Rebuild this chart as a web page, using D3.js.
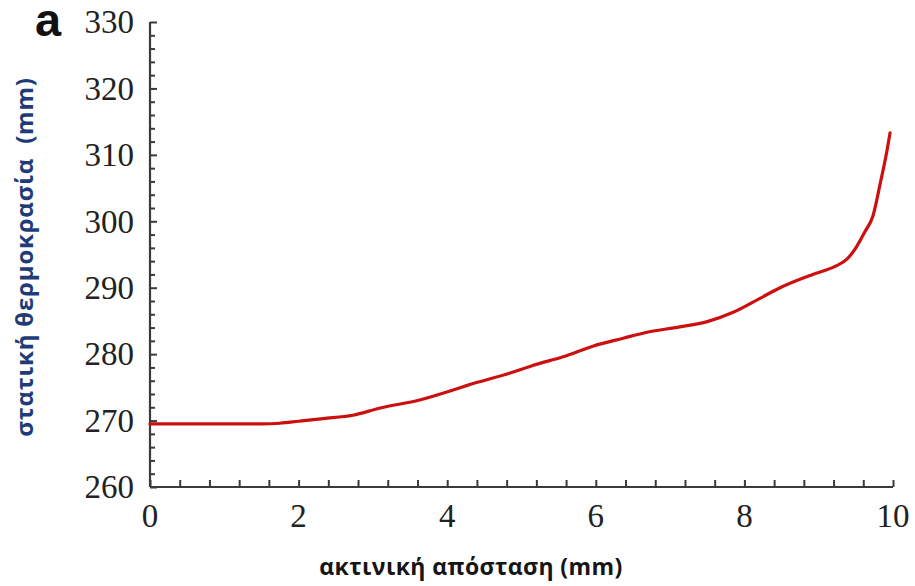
<!DOCTYPE html>
<html>
<head>
<meta charset="utf-8">
<script src="https://cdn.jsdelivr.net/npm/d3@7/dist/d3.min.js"></script>
<style>
  html, body { margin: 0; padding: 0; background: #fff; }
  svg { display: block; }
</style>
</head>
<body>
<svg id="chart" width="915" height="586"></svg>
<script>
// Radial distance (mm) and static temperature along the radius
const radius = [0, 0.5, 1.0, 1.5, 1.75, 2.0, 2.33, 2.73, 3.1, 3.63, 4.08, 4.27, 4.89, 5.15, 5.56, 5.96,
                6.37, 6.69, 7.13, 7.5, 7.85, 8.21, 8.48, 8.92, 9.22, 9.38, 9.5, 9.62, 9.73, 9.83, 9.92, 9.96];
const temperature = [269.5, 269.5, 269.5, 269.5, 269.6, 269.9, 270.3, 270.8, 271.9, 273.1, 274.6, 275.3, 277.3, 278.3, 279.6, 281.2,
                     282.4, 283.3, 284.1, 284.9, 286.3, 288.4, 290.0, 292.0, 293.2, 294.3, 296.0, 298.4, 300.8, 305.8, 310.7, 313.3];

const xTicks = [0, 2, 4, 6, 8, 10];
const yTicks = [260, 270, 280, 290, 300, 310, 320, 330];
const xMinor = d3.range(0, 10.0001, 0.4);
const yMinor = d3.range(260, 330.0001, 2);

const panelLabel = "a";
const xTitle = "ακτινική απόσταση (mm)";
const yTitle = "στατική θερμοκρασία  (mm)";

const svg = d3.select("#chart");

const x = d3.scaleLinear().domain([0, 10]).range([150, 893]);
const y = d3.scaleLinear().domain([260, 330]).range([487, 22]);

const axisColor = "#3a3a3a";
const tickFont = "'Liberation Serif', 'Times New Roman', serif";

// Bottom axis: inward ticks, minor every 0.4
const gx = svg.append("g").attr("transform", `translate(0,${y(260)})`);
gx.call(d3.axisTop(x).tickValues(xMinor).tickSize(7).tickFormat(""));
gx.select(".domain").remove();
gx.selectAll("line").attr("stroke", axisColor).attr("stroke-width", 2);

// Left axis: inward ticks, minor every 2
const gy = svg.append("g").attr("transform", `translate(${x(0)},0)`);
gy.call(d3.axisRight(y).tickValues(yMinor).tickSize(5).tickFormat(""));
gy.select(".domain").remove();
gy.selectAll("line").attr("stroke", axisColor).attr("stroke-width", 2);
gy.selectAll(".tick").filter(d => yTicks.includes(Math.round(d)))
  .select("line").attr("x2", 7);

// Axis lines
svg.append("line")
  .attr("x1", x(0)).attr("x2", x(10)).attr("y1", y(260)).attr("y2", y(260))
  .attr("stroke", axisColor).attr("stroke-width", 2.2);
svg.append("line")
  .attr("x1", x(0)).attr("x2", x(0)).attr("y1", y(330)).attr("y2", y(260))
  .attr("stroke", axisColor).attr("stroke-width", 2.2);

// Tick labels
svg.append("g").selectAll("text").data(xTicks).join("text")
  .attr("x", d => x(d)).attr("y", 527)
  .attr("text-anchor", "middle")
  .attr("font-family", tickFont).attr("font-size", 33).attr("fill", "#222")
  .text(d => d);

svg.append("g").selectAll("text").data(yTicks).join("text")
  .attr("x", 134).attr("y", d => y(d)).attr("dy", "0.34em")
  .attr("text-anchor", "end")
  .attr("font-family", tickFont).attr("font-size", 33).attr("fill", "#222")
  .text(d => d);

// Temperature curve
const line = d3.line()
  .x((d, i) => x(radius[i]))
  .y(d => y(d))
  .curve(d3.curveMonotoneX);

svg.append("path")
  .datum(temperature)
  .attr("d", line)
  .attr("fill", "none")
  .attr("stroke", "#cc1010")
  .attr("stroke-width", 3.2)
  .attr("stroke-linejoin", "round")
  .attr("stroke-linecap", "round");

// Axis titles
svg.append("text")
  .attr("x", 471).attr("y", 575)
  .attr("text-anchor", "middle")
  .attr("font-family", "'Open Sans', 'Noto Sans', sans-serif")
  .attr("font-weight", "bold").attr("font-size", 23)
  .attr("letter-spacing", 0.4)
  .attr("fill", "#151515")
  .text(xTitle);

svg.append("text")
  .attr("transform", "translate(33,257) rotate(-90)")
  .attr("text-anchor", "middle")
  .attr("font-family", "'Open Sans', 'Noto Sans', sans-serif")
  .attr("font-weight", "bold").attr("font-size", 24)
  .attr("letter-spacing", 0.8)
  .attr("fill", "#1f3c78")
  .attr("xml:space", "preserve")
  .text(yTitle);

// Panel letter
svg.append("text")
  .attr("x", 35).attr("y", 36)
  .attr("font-family", "'Liberation Sans', Arial, sans-serif")
  .attr("font-weight", "bold").attr("font-size", 47)
  .attr("fill", "#111")
  .text(panelLabel);
</script>
</body>
</html>
